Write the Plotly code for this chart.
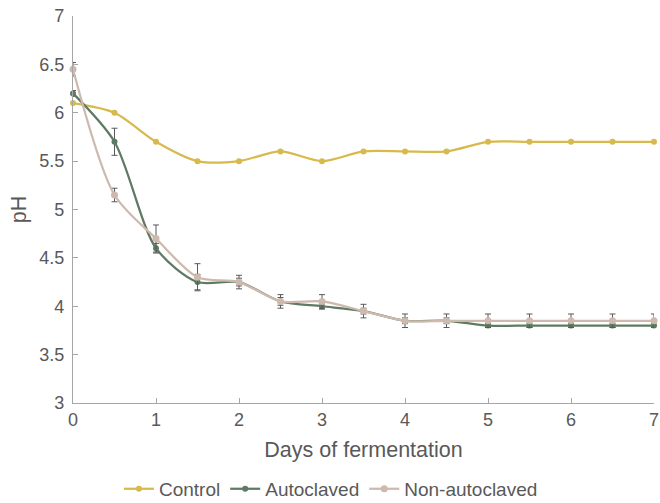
import plotly.graph_objects as go

days = [0, 0.5, 1, 1.5, 2, 2.5, 3, 3.5, 4, 4.5, 5, 5.5, 6, 6.5, 7]
control = [6.1, 6.0, 5.7, 5.5, 5.5, 5.6, 5.5, 5.6, 5.6, 5.6, 5.7, 5.7, 5.7, 5.7, 5.7]
autoclaved = [6.2, 5.7, 4.6, 4.25, 4.25, 4.05, 4.0, 3.95, 3.85, 3.85, 3.8, 3.8, 3.8, 3.8, 3.8]
autoclaved_err = [0.03, 0.14, 0.05, 0.08, 0.04, 0.04, 0.03, 0.03, 0.03, 0.03, 0.02, 0.02, 0.02, 0.02, 0.02]
non_autoclaved = [6.45, 5.15, 4.7, 4.3, 4.25, 4.05, 4.05, 3.95, 3.85, 3.85, 3.85, 3.85, 3.85, 3.85, 3.85]
non_autoclaved_err = [0.07, 0.07, 0.14, 0.14, 0.07, 0.07, 0.07, 0.07, 0.07, 0.07, 0.07, 0.07, 0.07, 0.07, 0.07]

y_ticks = [3, 3.5, 4, 4.5, 5, 5.5, 6, 6.5, 7]
x_ticks = [0, 1, 2, 3, 4, 5, 6, 7]

C_CONTROL = "#D8B94C"
C_AUTO = "#5F7A63"
C_NON = "#CDB9AD"
C_TEXT = "#595959"
C_AXIS = "#A6A6A6"

fig = go.Figure()

def err(vals):
    return dict(type="data", array=vals, visible=True, color=C_TEXT, thickness=1, width=3)

fig.add_trace(go.Scatter(
    x=days, y=control, name="Control", mode="lines+markers", cliponaxis=False,
    line=dict(color=C_CONTROL, width=2.25, shape="spline", smoothing=0.8),
    marker=dict(color=C_CONTROL, size=6),
))
fig.add_trace(go.Scatter(
    x=days, y=autoclaved, name="Autoclaved", mode="lines+markers", cliponaxis=False,
    line=dict(color=C_AUTO, width=2.25, shape="spline", smoothing=0.8),
    marker=dict(color=C_AUTO, size=6),
    error_y=err(autoclaved_err),
))
fig.add_trace(go.Scatter(
    x=days, y=non_autoclaved, name="Non-autoclaved", mode="lines+markers", cliponaxis=False,
    line=dict(color=C_NON, width=2.25, shape="spline", smoothing=0.8),
    marker=dict(color=C_NON, size=7),
    error_y=err(non_autoclaved_err),
))

fig.update_layout(
    width=660, height=503,
    margin=dict(l=73, r=6, t=16, b=100, autoexpand=False),
    paper_bgcolor="white", plot_bgcolor="white",
    font=dict(family="Liberation Sans, Arial, sans-serif", color=C_TEXT, size=18),
    showlegend=True,
    legend=dict(orientation="h", x=0.444, xanchor="center", y=-0.222, yanchor="middle",
                font=dict(size=19, color=C_TEXT), itemwidth=30, tracegroupgap=0),
)
fig.update_xaxes(
    range=[0, 7], tickvals=x_ticks, ticktext=[str(v) for v in x_ticks],
    showline=True, linecolor=C_AXIS, linewidth=1.3, showgrid=False, zeroline=False,
    ticks="inside", ticklen=5, tickcolor=C_AXIS, automargin=False,
    ticklabeloverflow="allow",
    tickfont=dict(size=18, color=C_TEXT),
    title=dict(text="Days of fermentation", font=dict(size=21.5, color=C_TEXT), standoff=13),
)
fig.update_yaxes(
    range=[3, 7], tickvals=y_ticks, ticktext=[f"{v:g}" for v in y_ticks],
    showline=True, linecolor=C_AXIS, linewidth=1.3, showgrid=False, zeroline=False,
    ticks="inside", ticklen=5, tickcolor=C_AXIS, automargin=False,
    ticklabeloverflow="allow", ticklabelstandoff=4,
    tickfont=dict(size=18, color=C_TEXT),
    title=dict(text="pH", font=dict(size=21.5, color=C_TEXT), standoff=6),
)

# remove the browser's default 8px body margin so the figure fills the window exactly
fig.write_html(
    "out.html",
    config={"displayModeBar": False},
    post_script="document.body.style.margin='0';document.body.style.overflow='hidden';",
)
